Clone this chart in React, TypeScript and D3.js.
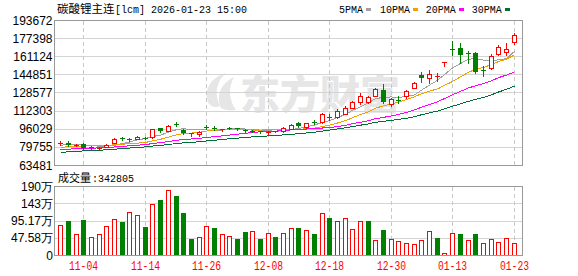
import React from "react";
import * as d3 from "d3";

// ---------- data ----------
const dates = [
  "10-30","10-31","11-03","11-04","11-05","11-06","11-07","11-10","11-11","11-12",
  "11-13","11-14","11-17","11-18","11-19","11-20","11-21","11-24","11-25","11-26",
  "11-27","11-28","12-01","12-02","12-03","12-04","12-05","12-08","12-09","12-10",
  "12-11","12-12","12-15","12-16","12-17","12-18","12-19","12-22","12-23","12-24",
  "12-25","12-26","12-29","12-30","12-31","01-05","01-06","01-07","01-08","01-09",
  "01-12","01-13","01-14","01-15","01-16","01-19","01-20","01-21","01-22","01-23",
];
const opens = [
  83020,83560,81310,82210,78610,78610,79960,83560,87430,86440,
  86710,88060,88330,96430,94090,100650,95260,91930,91390,97780,
  97060,94810,97060,96340,95080,94360,93910,93010,93910,93730,
  95890,100920,97240,102000,102000,106950,106500,109650,114780,120000,
  120000,125390,131060,117930,122240,125210,132770,144110,141770,142670,
  155800,167400,168750,163800,163620,149050,150850,163170,164700,173700,
];
const highs = [
  84730,84910,82210,83110,80410,79510,82210,87430,88510,87610,
  89410,88690,95710,97060,99310,102180,96160,92290,93910,99760,
  98860,96160,97690,97060,96160,94990,94360,93910,94360,97510,
  100200,102000,101550,103980,110280,109650,113880,116850,121340,128360,
  125210,132410,136010,123680,125120,131240,137990,147170,148340,146270,
  155980,174510,173340,165690,165150,151930,162820,171270,173160,181800,
];
const lows = [
  81760,80860,80860,77710,77710,78160,79510,83110,85810,85360,
  86440,87160,88060,93460,93730,98590,91660,89750,89750,95710,
  94630,94360,95710,94990,93460,93010,92560,90760,93010,93460,
  95530,97960,96880,100650,101280,103620,105420,109200,114420,118020,
  119370,125030,119370,116490,119370,123740,132410,137810,136730,138710,
  152200,161910,155260,155260,146270,143840,149770,162280,161910,171720,
];
const closes = [
  83560,81760,81760,79060,79510,78880,81760,86890,86890,86080,
  88690,87790,95530,93730,98590,100200,92290,91390,93460,97420,
  96610,95710,96340,95710,94540,93910,93460,93460,93550,96790,
  99130,98230,100920,101640,109200,106500,112350,114420,120450,125030,
  124130,131330,120000,122420,121790,130340,137270,141770,144740,143570,
  155890,166860,162090,163350,147170,148600,161650,169200,167760,180630,
];
// closes before the visible window (feed the moving averages)
const priorCloses = [
  68270,68720,67820,69170,70070,70520,69620,70970,71870,72770,
  73220,72770,74120,74570,75470,75020,75920,76360,76810,77710,
  76810,76360,77710,78160,77710,79510,80410,81310,81760,
];
const volumes = [
  836000,928000,585000,975000,493000,585000,808000,995000,920000,1179000,
  1115000,761000,1394000,1505000,1784000,1616000,1151000,446000,502000,808000,
  752000,585000,521000,446000,641000,669000,446000,613000,502000,613000,
  743000,752000,687000,585000,1170000,1030000,938000,1022000,715000,938000,
  938000,409000,697000,437000,390000,334000,297000,418000,669000,474000,
  56000,613000,585000,418000,585000,325000,437000,362000,465000,342805,
];
const volumeUp = [
  1,0,1,0,1,1,1,1,0,1,
  1,0,1,0,1,0,0,0,1,1,
  0,1,1,0,0,1,0,1,0,1,
  1,0,1,0,1,0,1,1,1,1,
  0,1,0,1,1,1,1,1,1,0,
  1,1,0,1,0,1,1,1,1,1,
];
const priceTicks = [193672,177398,161124,144851,128577,112303,96029,79755,63481];
const volumeTicks = [1903400,1427550,951700,475850,0];
const volumeTickLabels = ["190万","143万","95.17万","47.58万","0"];
const dateTickLabels = ["11-04","11-14","11-26","12-08","12-18","12-30","01-13","01-23"];
const maPeriods = [5, 10, 20, 30];
const maNames = ["5PMA", "10PMA", "20PMA", "30PMA"];
const title = "碳酸锂主连";
const titleCode = "[lcm] 2026-01-23 15:00";
const volumeLabel = "成交量";

// ---------- styles ----------
const RED = "#ff0000";
const GREEN = "#008000";
const maColors = ["#a0a0a0", "#f0a000", "#ff00ff", "#00703a"];
const BORDER = "#999999";
const GRID = "#d4d4d4";
const MONO = "'Liberation Mono', 'DejaVu Sans Mono', monospace";
const SANS = "'Liberation Sans', Arial, sans-serif";
const CJK = "'Noto Sans CJK SC', sans-serif";

export default function App() {
  const n = dates.length;
  const x = d3.scaleBand<number>().domain(d3.range(n)).range([56.4, 517.5]);
  const cx = (i: number) => Math.round((x(i) as number) + x.bandwidth() / 2) + 0.5;
  const yP = d3.scaleLinear().domain([63481, 193672]).range([165, 20]);
  const yV = d3.scaleLinear().domain([0, 1903400]).range([255, 186]);
  const L = 54.5, R = 522.5;

  const all = priorCloses.concat(closes);
  const off = priorCloses.length;
  const mas = maPeriods.map((p) =>
    closes.map((_, i) => d3.mean(all.slice(off + i - p + 1, off + i + 1)) as number)
  );
  const line = d3
    .line<number>()
    .x((_, i) => cx(i))
    .y((d) => yP(d));

  const tickIdx = dateTickLabels.map((l) => dates.indexOf(l));

  return (
    <svg
      width={578}
      height={276}
      style={{ position: "absolute", left: 0, top: 0, background: "#fff" }}
    >
      <rect x={0} y={0} width={578} height={276} fill="#fff" />
      {/* watermark */}
      <g fill="#e6e6e6">
        <path d="M209,104 C203,92 209,78 226,73 C216,82 214,94 220,106 C216,108 212,107 209,104 Z" />
        <path d="M221,108 C216,96 220,84 234,77 C228,88 229,100 236,110 C230,111 225,110 221,108 Z" />
        <text x={240} y={109} fontSize={40} fontWeight={900} fontFamily={CJK}>
          东方财富
        </text>
      </g>

      {/* title & legend */}
      <text x={57} y={12.5} fontSize={11.5} fontFamily={CJK} fill="#000">
        {title}
      </text>
      <text x={115} y={12.5} fontSize={10} fontFamily={MONO} fill="#000" textLength={132} lengthAdjust="spacingAndGlyphs">
        {titleCode}
      </text>
      {maNames.map((nm, k) => {
        const xs = [339, 380, 425.7, 471.7][k];
        const w = nm.length * 6;
        return (
          <g key={nm}>
            <text x={xs} y={13} fontSize={10} fontFamily={MONO} fill="#000" textLength={w} lengthAdjust="spacingAndGlyphs">
              {nm}
            </text>
            <rect x={Math.round(xs + w + 3)} y={8} width={5} height={3} fill={maColors[k]} />
          </g>
        );
      })}

      {/* main chart grid */}
      <g shapeRendering="crispEdges">
        {priceTicks.slice(1, -1).map((t) => (
          <line key={t} x1={L} x2={R} y1={Math.round(yP(t)) + 0.5} y2={Math.round(yP(t)) + 0.5} stroke={GRID} />
        ))}
        {volumeTicks.slice(1, -1).map((t) => (
          <line key={t} x1={L} x2={R} y1={Math.round(yV(t)) + 0.5} y2={Math.round(yV(t)) + 0.5} stroke={GRID} />
        ))}
        {tickIdx.map((i) => (
          <g key={i}>
            <line x1={cx(i)} x2={cx(i)} y1={21} y2={165} stroke="#c8c8c8" strokeDasharray="4,3" />
            <line x1={cx(i)} x2={cx(i)} y1={187} y2={255} stroke="#c8c8c8" strokeDasharray="4,3" />
          </g>
        ))}
      </g>

      {/* price axis labels */}
      {priceTicks.map((t) => (
        <text key={t} x={52.5} y={yP(t) + 4.5} textAnchor="end" fontSize={12} fontFamily={SANS} fill="#000">
          {t}
        </text>
      ))}
      {/* volume axis labels */}
      {volumeTicks.map((t, k) => (
        <text key={t} x={53} y={yV(t) + 4.5} textAnchor="end" fontSize={12} fontFamily={SANS} fill="#000">
          {volumeTickLabels[k]}
        </text>
      ))}

      {/* moving averages */}
      <g fill="none" strokeWidth={1} shapeRendering="crispEdges">
        {mas.map((m, k) => (
          <path key={k} d={line(m) as string} stroke={maColors[k]} />
        ))}
      </g>

      {/* candles */}
      <g shapeRendering="crispEdges">
        {closes.map((c, i) => {
          const o = opens[i];
          const up = c > o;
          const col = up ? RED : GREEN;
          const xc = cx(i);
          const yO = yP(o), yC = yP(c);
          const top = Math.round(Math.min(yO, yC));
          const bot = Math.round(Math.max(yO, yC));
          const yH = Math.round(yP(highs[i]));
          const yL = Math.round(yP(lows[i]));
          return (
            <g key={i}>
              <line x1={xc} x2={xc} y1={yH} y2={yL + 1} stroke={col} />
              {up && bot - top >= 2 ? (
                <rect x={xc - 2} y={top + 0.5} width={4} height={bot - top} fill="#fff" stroke={RED} />
              ) : (
                <rect x={xc - 2.5} y={top} width={5} height={Math.max(1, bot - top)} fill={col} />
              )}
            </g>
          );
        })}
      </g>

      {/* volume bars */}
      <g shapeRendering="crispEdges">
        {volumes.map((v, i) => {
          const xc = cx(i);
          const t = Math.round(yV(v));
          return volumeUp[i] ? (
            <rect key={i} x={xc - 2} y={t + 0.5} width={4} height={Math.max(1, 255 - t)} fill="#fff" stroke={RED} />
          ) : (
            <rect key={i} x={xc - 2.5} y={t} width={5} height={255.5 - t} fill={GREEN} />
          );
        })}
      </g>

      {/* borders */}
      <g fill="none" stroke={BORDER} shapeRendering="crispEdges">
        <rect x={L} y={20.5} width={R - L} height={145} />
        <rect x={L} y={186.5} width={R - L} height={69} />
      </g>

      {/* volume label */}
      <text x={58} y={181.5} fontSize={11} fontFamily={CJK} fill="#000">
        {volumeLabel}
      </text>
      <text x={92} y={181.5} fontSize={10} fontFamily={MONO} fill="#000" textLength={42} lengthAdjust="spacingAndGlyphs">
        {":" + volumes[volumes.length - 1]}
      </text>

      {/* date labels */}
      {tickIdx.map((i, k) => (
        <text key={k} x={cx(i)} y={270} textAnchor="middle" fontSize={12} fontFamily={MONO} fill={RED} textLength={29} lengthAdjust="spacingAndGlyphs">
          {dateTickLabels[k]}
        </text>
      ))}
    </svg>
  );
}
